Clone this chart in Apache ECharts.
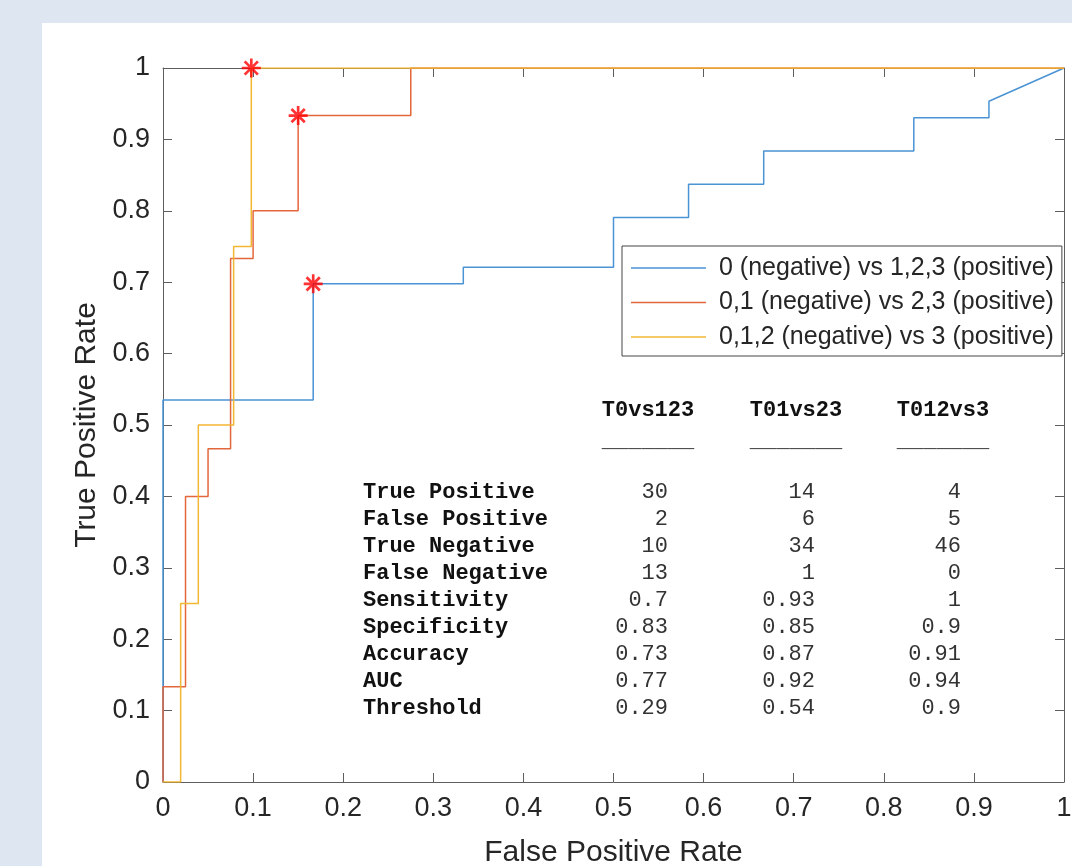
<!DOCTYPE html>
<html>
<head>
<meta charset="utf-8">
<script src="https://cdn.jsdelivr.net/npm/echarts@6/dist/echarts.min.js"></script>
<style>
  html, body { margin: 0; padding: 0; background: #dde6f1; }
  #panel { position: absolute; left: 42px; top: 23px; right: 0; bottom: 0; background: #ffffff; }
  #main { position: absolute; left: 0; top: 0; width: 1072px; height: 866px; }
</style>
</head>
<body>
<div id="panel"></div>
<div id="main"></div>
<script>
// ROC curves (false positive rate / true positive rate)
const fpr0vs123 = [0, 0, 0.1667, 0.1667, 0.3333, 0.3333, 0.5, 0.5, 0.5833, 0.5833, 0.6667, 0.6667, 0.8333, 0.8333, 0.9167, 0.9167, 1];
const tpr0vs123 = [0, 0.5349, 0.5349, 0.6977, 0.6977, 0.7209, 0.7209, 0.7907, 0.7907, 0.8372, 0.8372, 0.8837, 0.8837, 0.9302, 0.9302, 0.9535, 1];

const fpr01vs23 = [0, 0, 0.025, 0.025, 0.05, 0.05, 0.075, 0.075, 0.1, 0.1, 0.15, 0.15, 0.275, 0.275, 1];
const tpr01vs23 = [0, 0.1333, 0.1333, 0.4, 0.4, 0.4667, 0.4667, 0.7333, 0.7333, 0.8, 0.8, 0.9333, 0.9333, 1, 1];

const fpr012vs3 = [0, 0.0196, 0.0196, 0.0392, 0.0392, 0.0784, 0.0784, 0.098, 0.098, 1];
const tpr012vs3 = [0, 0, 0.25, 0.25, 0.5, 0.5, 0.75, 0.75, 1, 1];

// operating points (red stars)
const optFpr = [0.1667, 0.15, 0.098];
const optTpr = [0.6977, 0.9333, 1];

const seriesNames = [
  '0 (negative) vs 1,2,3 (positive)',
  '0,1 (negative) vs 2,3 (positive)',
  '0,1,2 (negative) vs 3 (positive)'
];

// summary table
const tableHeaders = ['T0vs123', 'T01vs23', 'T012vs3'];
const metricNames = ['True Positive', 'False Positive', 'True Negative', 'False Negative',
  'Sensitivity', 'Specificity', 'Accuracy', 'AUC', 'Threshold'];
const colT0vs123 = ['30', '2', '10', '13', '0.7', '0.83', '0.73', '0.77', '0.29'];
const colT01vs23 = ['14', '6', '34', '1', '0.93', '0.85', '0.87', '0.92', '0.54'];
const colT012vs3 = ['4', '5', '46', '0', '1', '0.9', '0.91', '0.94', '0.9'];

const zip = (xs, ys) => xs.map((x, i) => [x, ys[i]]);

const sans = '"Liberation Sans", Arial, Helvetica, sans-serif';
const mono = '"Liberation Mono", "Courier New", monospace';
const axisColor = '#5e5e5e';
const textColor = '#262626';
const colors = ['#4a93d4', '#e3673c', '#f2b733'];

// table as graphic text
const graphics = [];
const colCenters = [648, 796, 943];
const colRights = [668, 815, 961];
const valueCols = [colT0vs123, colT01vs23, colT012vs3];
tableHeaders.forEach((h, i) => {
  graphics.push({ type: 'text', x: colCenters[i], y: 410, silent: true,
    style: { text: h, font: 'bold 22px ' + mono, fill: '#111', align: 'center', verticalAlign: 'middle' } });
  graphics.push({ type: 'text', x: colCenters[i], y: 441, silent: true,
    style: { text: '_______', font: '22px ' + mono, fill: '#444', align: 'center', verticalAlign: 'middle' } });
});
metricNames.forEach((m, r) => {
  const y = 492 + r * 27;
  graphics.push({ type: 'text', x: 363, y: y, silent: true,
    style: { text: m, font: 'bold 22px ' + mono, fill: '#111', align: 'left', verticalAlign: 'middle' } });
  valueCols.forEach((col, c) => {
    graphics.push({ type: 'text', x: colRights[c], y: y, silent: true,
      style: { text: col[r], font: '22px ' + mono, fill: '#333', align: 'right', verticalAlign: 'middle' } });
  });
});

const asterisk = 'path://M-1.4,-10L1.4,-10L1.4,10L-1.4,10Z M-10,-1.4L10,-1.4L10,1.4L-10,1.4Z ' +
  'M-8,-6L-6,-8L8,6L6,8Z M6,-8L8,-6L-6,8L-8,6Z';
const legendLine = 'path://M0,0L100,0L100,2L0,2Z';

const chart = echarts.init(document.getElementById('main'), null, { renderer: 'canvas' });

const mainAxis = {
  type: 'value', min: 0, max: 1, interval: 0.1,
  axisLine: { show: true, onZero: false, lineStyle: { color: axisColor, width: 1 } },
  axisTick: { show: true, inside: true, length: 9, lineStyle: { color: axisColor, width: 1 } },
  splitLine: { show: false }
};

const option = {
  backgroundColor: 'transparent',
  animation: false,
  color: colors,
  grid: { left: 163, right: 8, top: 68, bottom: 84, containLabel: false, outerBoundsMode: 'none' },
  xAxis: [
    Object.assign({}, mainAxis, {
      position: 'bottom',
      name: 'False Positive Rate', nameLocation: 'middle', nameGap: 56,
      nameTextStyle: { fontFamily: sans, fontSize: 30, color: textColor },
      axisLabel: { margin: 13, fontFamily: sans, fontSize: 27, color: textColor }
    }),
    Object.assign({}, mainAxis, { position: 'top', axisLabel: { show: false } })
  ],
  yAxis: [
    Object.assign({}, mainAxis, {
      position: 'left',
      name: 'True Positive Rate', nameLocation: 'middle', nameGap: 56, nameRotate: 90,
      nameTextStyle: { fontFamily: sans, fontSize: 30, color: textColor },
      axisLabel: { margin: 13, fontFamily: sans, fontSize: 27, color: textColor }
    }),
    Object.assign({}, mainAxis, { position: 'right', axisLabel: { show: false } })
  ],
  legend: {
    data: seriesNames.map(n => ({ name: n, icon: legendLine })),
    orient: 'vertical',
    left: 622, top: 246,
    padding: [7, 8, 4, 9],
    itemWidth: 91, itemHeight: 1.5, itemGap: 4.5,
    backgroundColor: '#ffffff',
    borderColor: '#444', borderWidth: 1, borderRadius: 0,
    selectedMode: false,
    textStyle: { fontFamily: sans, fontSize: 25, color: textColor, lineHeight: 30 }
  },
  graphic: graphics,
  series: [
    { name: seriesNames[0], type: 'line', data: zip(fpr0vs123, tpr0vs123), symbol: 'none',
      lineStyle: { width: 1.5, color: colors[0] }, itemStyle: { color: colors[0] }, z: 2 },
    { name: seriesNames[1], type: 'line', data: zip(fpr01vs23, tpr01vs23), symbol: 'none',
      lineStyle: { width: 1.5, color: colors[1] }, itemStyle: { color: colors[1] }, z: 3 },
    { name: seriesNames[2], type: 'line', data: zip(fpr012vs3, tpr012vs3), symbol: 'none',
      lineStyle: { width: 1.5, color: colors[2] }, itemStyle: { color: colors[2] }, z: 4 },
    { name: 'optimal', type: 'scatter', data: zip(optFpr, optTpr), symbol: asterisk,
      symbolSize: 19, itemStyle: { color: '#ff0000' }, z: 5 }
  ]
};

chart.setOption(option);
</script>
</body>
</html>
